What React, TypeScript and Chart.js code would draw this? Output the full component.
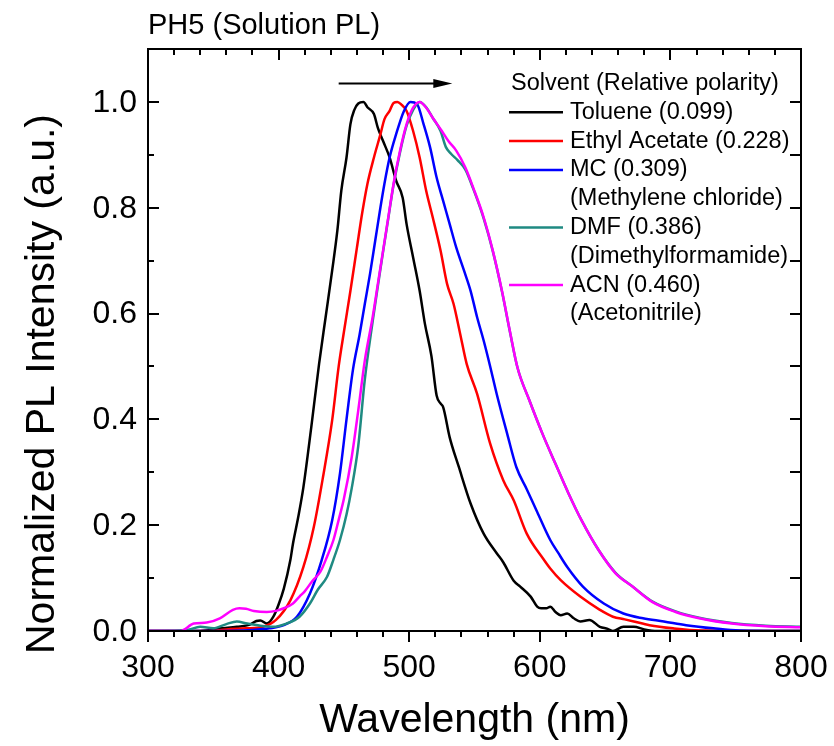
import { useEffect, useRef } from "react";
import { Chart, registerables } from "chart.js";

Chart.register(...registerables);

type Pt = [number, number];

// Wavelength (nm), normalized PL intensity
const toluene: Pt[] = [
  [300, 0], [340, 0], [355, 0.005], [368, 0.008], [378, 0.012], [383, 0.019], [386, 0.02], [391, 0.014],
  [396, 0.027], [400, 0.05], [404, 0.08], [409, 0.134], [411, 0.165], [415, 0.215], [419, 0.272],
  [425, 0.385], [431, 0.505], [436, 0.593], [441, 0.681], [445, 0.757], [448, 0.832], [452, 0.895],
  [455, 0.958], [458, 0.985], [461, 0.997], [465, 1.0], [468, 0.99], [473, 0.977], [476, 0.951],
  [480, 0.926], [485, 0.895], [490, 0.851], [495, 0.819], [498, 0.769], [503, 0.706], [508, 0.643],
  [512, 0.581], [517, 0.52], [521, 0.445], [524, 0.43], [526, 0.423], [531, 0.366], [538, 0.31],
  [547, 0.241], [557, 0.184], [567, 0.147], [572, 0.13], [580, 0.095], [585, 0.084], [593, 0.065],
  [598, 0.046], [601, 0.043], [605, 0.043], [608, 0.046], [612, 0.036], [616, 0.03], [621, 0.033],
  [626, 0.024], [631, 0.018], [638, 0.021], [646, 0.008], [652, 0.004], [656, 0], [664, 0.008],
  [672, 0.008], [680, 0.003], [690, 0], [800, 0],
];

const ethylAcetate: Pt[] = [
  [300, 0], [345, 0], [360, 0.003], [375, 0.005], [388, 0.008], [398, 0.021], [409, 0.058], [419, 0.121],
  [427, 0.197], [434, 0.291], [441, 0.398], [446, 0.5], [450, 0.565], [455, 0.643], [460, 0.725],
  [464, 0.79], [468, 0.845], [473, 0.895], [478, 0.939], [481, 0.967], [485, 0.983], [488, 0.998],
  [491, 1.0], [494, 0.995], [498, 0.983], [503, 0.945], [508, 0.895], [513, 0.832], [518, 0.782],
  [524, 0.719], [529, 0.656], [534, 0.618], [539, 0.562], [544, 0.505], [552, 0.448], [562, 0.354],
  [572, 0.285], [580, 0.247], [590, 0.184], [603, 0.135], [608, 0.118], [616, 0.096], [631, 0.065],
  [646, 0.04], [656, 0.027], [665, 0.022], [672, 0.018], [684, 0.011], [702, 0.005], [723, 0.001],
  [800, 0],
];

const methyleneChloride: Pt[] = [
  [300, 0], [350, 0], [380, 0.002], [393, 0.005], [404, 0.011], [414, 0.027], [424, 0.071], [433, 0.134],
  [441, 0.209], [447, 0.298], [452, 0.4], [457, 0.495], [462, 0.56], [466, 0.618], [470, 0.675],
  [474, 0.738], [478, 0.801], [481, 0.845], [485, 0.895], [490, 0.939], [496, 0.983], [501, 1.0],
  [506, 0.996], [511, 0.958], [516, 0.914], [521, 0.857], [526, 0.813], [531, 0.769], [536, 0.725],
  [542, 0.681], [547, 0.643], [552, 0.593], [557, 0.549], [562, 0.5], [567, 0.448], [575, 0.373],
  [582, 0.31], [590, 0.268], [598, 0.225], [608, 0.172], [614, 0.148], [621, 0.121], [633, 0.084],
  [649, 0.052], [664, 0.033], [679, 0.024], [695, 0.018], [712, 0.011], [733, 0.005], [753, 0.001],
  [800, 0],
];

const dmf: Pt[] = [
  [300, 0], [330, 0.002], [340, 0.008], [350, 0.005], [360, 0.013], [368, 0.018], [376, 0.014],
  [386, 0.01], [396, 0.008], [406, 0.014], [416, 0.027], [424, 0.052], [430, 0.078], [437, 0.102],
  [442, 0.135], [447, 0.172], [452, 0.22], [456, 0.27], [461, 0.35], [466, 0.475], [472, 0.585],
  [476, 0.652], [480, 0.717], [484, 0.78], [488, 0.843], [493, 0.905], [498, 0.955], [503, 0.985],
  [508, 1.0], [513, 0.99], [518, 0.97], [524, 0.945], [528, 0.915], [532, 0.902], [537, 0.89],
  [543, 0.872], [549, 0.836], [557, 0.78], [564, 0.718], [571, 0.642], [577, 0.567], [583, 0.497],
  [592, 0.436], [602, 0.373], [612, 0.316], [622, 0.26], [632, 0.209], [645, 0.153], [658, 0.11],
  [671, 0.084], [686, 0.056], [704, 0.037], [722, 0.025], [747, 0.015], [773, 0.01], [800, 0.008],
];

const acetonitrile: Pt[] = [
  [300, 0], [325, 0], [335, 0.014], [345, 0.016], [355, 0.024], [365, 0.04], [370, 0.043], [375, 0.042],
  [381, 0.038], [391, 0.036], [398, 0.038], [404, 0.043], [411, 0.052], [416, 0.065], [420, 0.075],
  [426, 0.095], [432, 0.112], [437, 0.14], [442, 0.172], [446, 0.21], [450, 0.25], [456, 0.329],
  [461, 0.417], [466, 0.511], [472, 0.593], [476, 0.656], [480, 0.719], [484, 0.782], [488, 0.845],
  [493, 0.908], [498, 0.958], [503, 0.989], [508, 1.0], [513, 0.989], [518, 0.97], [525, 0.945],
  [530, 0.926], [536, 0.908], [543, 0.876], [549, 0.838], [557, 0.782], [564, 0.719], [571, 0.643],
  [577, 0.568], [583, 0.497], [592, 0.436], [602, 0.373], [612, 0.316], [622, 0.26], [632, 0.209],
  [645, 0.153], [658, 0.109], [671, 0.084], [686, 0.055], [704, 0.036], [722, 0.024], [747, 0.014],
  [773, 0.009], [800, 0.007],
];

const seriesData: Pt[][] = [toluene, ethylAcetate, methyleneChloride, dmf, acetonitrile];
const seriesNames = ["Toluene (0.099)", "Ethyl Acetate (0.228)", "MC (0.309)", "DMF (0.386)", "ACN (0.460)"];
const seriesNotes = ["", "", "(Methylene chloride)", "(Dimethylformamide)", "(Acetonitrile)"];
const seriesColors = ["#000000", "#ff0000", "#0000ff", "#1f8a82", "#ff00ff"];
const seriesOrder = [4, 3, 2, 1, 0];

const chartTitle = "PH5 (Solution PL)";
const legendTitle = "Solvent (Relative polarity)";
const xTitle = "Wavelength (nm)";
const yTitle = "Normalized PL Intensity (a.u.)";

const xTickValues = [300, 400, 500, 600, 700, 800];
const xMinorValues = [320, 340, 360, 380, 420, 440, 460, 480, 520, 540, 560, 580, 620, 640, 660, 680, 720, 740, 760, 780];
const yTickValues = [0, 0.2, 0.4, 0.6, 0.8, 1.0];
const yMinorValues = [0.1, 0.3, 0.5, 0.7, 0.9];

// arrow (data coordinates)
const arrowFrom = 446;
const arrowTo = 533;
const arrowLevel = 1.035;

const FONT = '"Liberation Sans", Arial, Helvetica, sans-serif';

const decorPlugin = {
  id: "decor",
  afterDraw(chart: any) {
    const { ctx, chartArea: ca } = chart;
    const xs = chart.scales.x;
    const ys = chart.scales.y;
    ctx.save();
    ctx.strokeStyle = "#000";
    ctx.fillStyle = "#000";
    ctx.lineWidth = 2;
    ctx.lineCap = "butt";
    ctx.strokeRect(ca.left, ca.top, ca.right - ca.left, ca.bottom - ca.top);

    ctx.beginPath();
    const xAll = [...xTickValues.map((v) => [v, 11]), ...xMinorValues.map((v) => [v, 6])];
    for (const [v, len] of xAll) {
      const px = Math.round(xs.getPixelForValue(v));
      ctx.moveTo(px, ca.bottom);
      ctx.lineTo(px, ca.bottom + len);
      ctx.moveTo(px, ca.top);
      ctx.lineTo(px, ca.top + len);
    }
    const yAll = [...yTickValues.map((v) => [v, 11]), ...yMinorValues.map((v) => [v, 6])];
    for (const [v, len] of yAll) {
      const py = Math.round(ys.getPixelForValue(v));
      ctx.moveTo(ca.left, py);
      ctx.lineTo(ca.left + len, py);
      ctx.moveTo(ca.right, py);
      ctx.lineTo(ca.right - 11, py);
    }
    ctx.stroke();

    // tick labels
    ctx.font = `32px ${FONT}`;
    ctx.textAlign = "center";
    ctx.textBaseline = "middle";
    for (const v of xTickValues) {
      ctx.fillText(String(v), xs.getPixelForValue(v), 668);
    }
    ctx.textAlign = "right";
    for (const v of yTickValues) {
      ctx.fillText(v.toFixed(1), 137, ys.getPixelForValue(v) + 1);
    }

    // axis titles
    ctx.font = `41px ${FONT}`;
    ctx.textAlign = "center";
    ctx.textBaseline = "alphabetic";
    ctx.fillText(xTitle, (ca.left + ca.right) / 2, 732);
    ctx.save();
    ctx.translate(54, 384);
    ctx.rotate(-Math.PI / 2);
    ctx.fillText(yTitle, 0, 0);
    ctx.restore();

    // chart title
    ctx.font = `29px ${FONT}`;
    ctx.textAlign = "left";
    ctx.fillText(chartTitle, 148, 34);

    // arrow
    const ax1 = xs.getPixelForValue(arrowFrom);
    const ax2 = xs.getPixelForValue(arrowTo);
    const ay = ys.getPixelForValue(arrowLevel);
    ctx.lineWidth = 2;
    ctx.beginPath();
    ctx.moveTo(ax1, ay);
    ctx.lineTo(ax2 - 15, ay);
    ctx.stroke();
    ctx.beginPath();
    ctx.moveTo(ax2, ay);
    ctx.lineTo(ax2 - 19, ay - 4.5);
    ctx.lineTo(ax2 - 19, ay + 4.5);
    ctx.closePath();
    ctx.fill();

    // legend
    ctx.font = `23.5px ${FONT}`;
    ctx.textBaseline = "middle";
    ctx.textAlign = "left";
    const rowH = 28.8;
    let yy = 83.5;
    ctx.fillText(legendTitle, 511, yy);
    for (let i = 0; i < seriesNames.length; i++) {
      yy += rowH;
      ctx.strokeStyle = seriesColors[i];
      ctx.lineWidth = 2.5;
      ctx.beginPath();
      ctx.moveTo(509, yy);
      ctx.lineTo(563, yy);
      ctx.stroke();
      ctx.fillStyle = "#000";
      ctx.fillText(seriesNames[i], 570, yy);
      if (seriesNotes[i]) {
        yy += rowH;
        ctx.fillText(seriesNotes[i], 570, yy);
      }
    }
    ctx.restore();
  },
};

export default function App() {
  const ref = useRef<HTMLCanvasElement | null>(null);
  useEffect(() => {
    if (!ref.current) return;
    const chart = new Chart(ref.current, {
      type: "line",
      data: {
        datasets: seriesData.map((d, i) => ({
          label: seriesNames[i],
          data: d.map(([x, y]) => ({ x, y })),
          borderColor: seriesColors[i],
          backgroundColor: seriesColors[i],
          borderWidth: 2.5,
          pointRadius: 0,
          fill: false,
          cubicInterpolationMode: "monotone" as const,
          order: seriesOrder[i],
        })),
      },
      options: {
        animation: false,
        responsive: false,
        maintainAspectRatio: false,
        layout: { padding: { left: 148, top: 49, right: 33, bottom: 115 } },
        plugins: { legend: { display: false }, tooltip: { enabled: false }, title: { display: false } },
        scales: {
          x: { type: "linear", min: 300, max: 800, display: false },
          y: { type: "linear", min: 0, max: 1.1, display: false },
        },
      },
      plugins: [decorPlugin],
    });
    return () => chart.destroy();
  }, []);
  return (
    <div style={{ position: "fixed", left: 0, top: 0, width: 834, height: 746, background: "#fff" }}>
      <canvas ref={ref} width={834} height={746} style={{ width: 834, height: 746, display: "block" }} />
    </div>
  );
}
